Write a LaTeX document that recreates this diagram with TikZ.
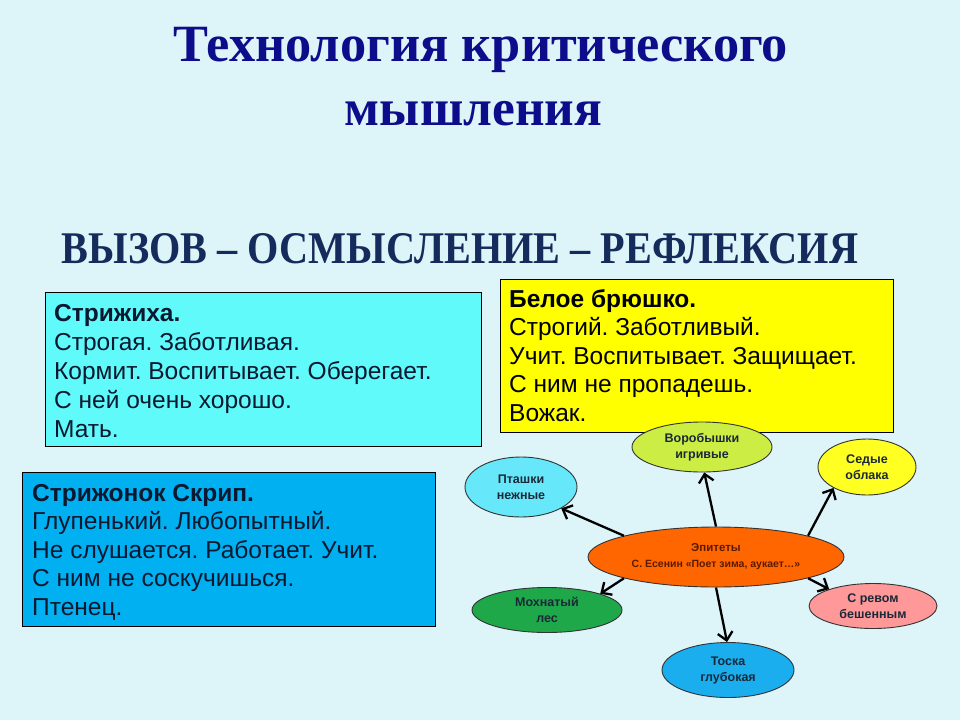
\documentclass[tikz,border=0pt]{standalone}
\usepackage{fontspec}
\setmainfont{Liberation Serif}
\newfontfamily\arialf{Liberation Sans}
\usetikzlibrary{shapes.geometric,arrows.meta}
\definecolor{bgc}{HTML}{DDF4F9}
\definecolor{titlec}{HTML}{0D0D8C}
\definecolor{subc}{HTML}{142B5C}
\definecolor{boxa}{HTML}{60FAFA}
\definecolor{boxb}{HTML}{FFFF00}
\definecolor{boxc}{HTML}{00B0F0}
\definecolor{txtc}{HTML}{0A1830}
\definecolor{ellt}{HTML}{1B2838}
\definecolor{eptxt}{HTML}{5A1A00}
\definecolor{cvb}{HTML}{CCEE44}
\definecolor{cpt}{HTML}{66E8FA}
\definecolor{cso}{HTML}{FFFF22}
\definecolor{cep}{HTML}{FF6600}
\definecolor{cml}{HTML}{1FA84A}
\definecolor{csr}{HTML}{FF9999}
\definecolor{ctg}{HTML}{1AAEEE}
\tikzset{
  box/.style={draw=black, line width=0.9pt, rectangle, inner sep=0pt},
  boxtext/.style={anchor=base west, inner sep=0pt, font=\arialf\frenchspacing\fontsize{24.5}{28.8}\selectfont},
  ell/.style={ellipse, draw=black!80, line width=0.9pt, inner sep=0pt, align=center,
    text=ellt, font=\arialf\bfseries\fontsize{12.5}{16}\selectfont},
  arr/.style={line width=2.3pt, -{Straight Barb[length=8pt,width=15pt]}}
}
\begin{document}
\begin{tikzpicture}[x=1pt,y=-1pt]
\fill[bgc] (0,0) rectangle (960,720);
\useasboundingbox (0,0) rectangle (960,720);

% titles
\node[anchor=base, inner sep=0pt, text=titlec] (t1) at (481,61.5)
  {\resizebox{614pt}{!}{\bfseries Технология критического}};
\node[anchor=base, inner sep=0pt, text=titlec] (t2) at (473.5,125)
  {\resizebox{257pt}{!}{\bfseries мышления}};
\node[anchor=base, inner sep=0pt, text=subc] (sub) at (460,263)
  {\resizebox{796pt}{30pt}{\bfseries ВЫЗОВ – ОСМЫСЛЕНИЕ – РЕФЛЕКСИЯ}};

% boxes
\node[box, fill=boxa, minimum width=436pt, minimum height=154pt] (b1) at (263,369) {};
\node[boxtext, text=txtc] (b1t) at (54,321) {\parbox[t]{420pt}{\fontsize{24.5}{29}\selectfont\textbf{Стрижиха.}\\
Строгая. Заботливая.\\
Кормит. Воспитывает. Оберегает.\\
С ней очень хорошо.\\
Мать.}};

\node[box, fill=boxb, minimum width=393pt, minimum height=153pt] (b2) at (696.5,355.5) {};
\node[boxtext, text=black] (b2t) at (509,307) {\parbox[t]{380pt}{\fontsize{24.5}{28.6}\selectfont\textbf{Белое брюшко.}\\
Строгий. Заботливый.\\
Учит. Воспитывает. Защищает.\\
С ним не пропадешь.\\
Вожак.}};

\node[box, fill=boxc, minimum width=413pt, minimum height=154pt] (b3) at (228.5,549) {};
\node[boxtext, text=txtc] (b3t) at (32,501) {\parbox[t]{400pt}{\fontsize{24.5}{28.6}\selectfont\textbf{Стрижонок Скрип.}\\
Глупенький. Любопытный.\\
Не слушается. Работает. Учит.\\
С ним не соскучишься.\\
Птенец.}};

% ellipses
\node[ell, fill=cvb, minimum width=140pt, minimum height=50pt] (vb) at (702,447) {Воробышки\\игривые};
\node[ell, fill=cpt, minimum width=112pt, minimum height=60pt] (pt) at (521,487) {Пташки\\нежные};
\node[ell, fill=cso, minimum width=98pt, minimum height=56pt] (so) at (867,467) {Седые\\облака};
\node[ell, fill=cep, minimum width=256pt, minimum height=60pt, text=eptxt] (ep) at (716,557)
  {\fontsize{11.5}{17}\selectfont Эпитеты\\ \fontsize{10.5}{12}\selectfont С. Есенин «Поет зима, аукает…»};
\node[ell, fill=cml, minimum width=150pt, minimum height=45pt] (ml) at (547,610) {Мохнатый\\лес};
\node[ell, fill=csr, minimum width=128pt, minimum height=45pt] (sr) at (873,606) {С ревом\\бешенным};
\node[ell, fill=ctg, minimum width=132pt, minimum height=55pt] (tg) at (728,670) {Тоска\\глубокая};

% arrows
\draw[arr] (ep.167) -- (pt.-28);
\draw[arr] (ep.90) -- (vb.-85);
\draw[arr] (ep.13) -- (so.212);
\draw[arr] (ep.193) -- (ml.17);
\draw[arr] (ep.-90) -- (tg.92);
\draw[arr] (ep.-13) -- (sr.159);
\end{tikzpicture}
\end{document}
